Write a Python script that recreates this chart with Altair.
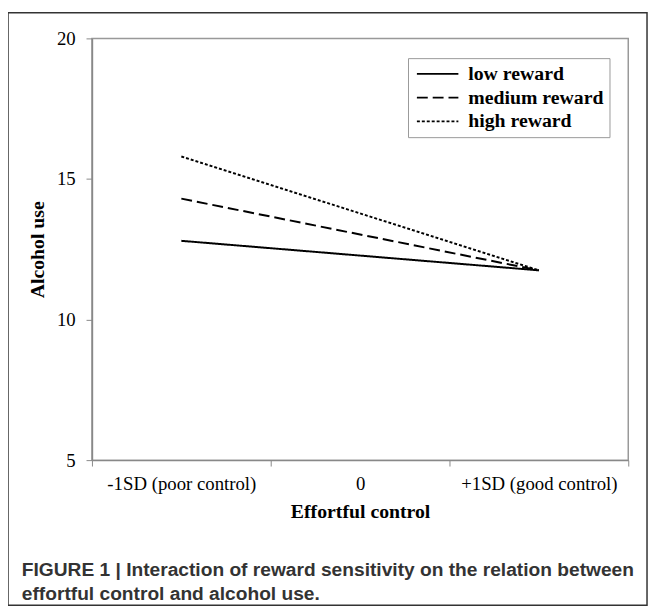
import altair as alt
import pandas as pd

# ---- data ----
x_labels = ["-1SD (poor control)", "0", "+1SD (good control)"]
series = ["low reward", "medium reward", "high reward"]
x_points = ["-1SD (poor control)", "+1SD (good control)"]
low_vals = [12.8, 11.75]
medium_vals = [14.3, 11.75]
high_vals = [15.8, 11.75]

rows = []
for name, vals in zip(series, [low_vals, medium_vals, high_vals]):
    for xl, v in zip(x_points, vals):
        rows.append({"control": xl, "alcohol": v, "reward": name})
df = pd.DataFrame(rows)

caption_lines = [
    "FIGURE 1 | Interaction of reward sensitivity on the relation between",
    "effortful control and alcohol use.",
]

W, H = 543, 427
SERIF = "Liberation Serif"
SANS = "Liberation Sans"

lines = alt.Chart(df).mark_line(color="black", strokeWidth=2).encode(
    x=alt.X(
        "control:N",
        sort=x_labels,
        scale=alt.Scale(type="band", domain=x_labels, paddingInner=0, paddingOuter=0),
        axis=alt.Axis(
            title="Effortful control",
            labelAngle=0,
            tickBand="extent",
            labelPadding=9,
            titlePadding=8,
        ),
    ),
    y=alt.Y(
        "alcohol:Q",
        scale=alt.Scale(domain=[5, 20], nice=False, zero=False),
        axis=alt.Axis(title="Alcohol use", values=[5, 10, 15, 20], labelPadding=11, titlePadding=9),
    ),
    strokeDash=alt.StrokeDash(
        "reward:N",
        sort=series,
        scale=alt.Scale(domain=series, range=[[1, 0], [11, 5], [3, 2]]),
        legend=alt.Legend(title=None),
    ),
    detail="reward:N",
)

frame = alt.Chart(pd.DataFrame({"a": [0]})).mark_rect(
    fill=None, stroke="#333333", strokeWidth=1.5
).encode(
    x=alt.value(-85), x2=alt.value(562), y=alt.value(-26), y2=alt.value(574)
)

cap1 = alt.Chart(pd.DataFrame({"t": [caption_lines[0]]})).mark_text(
    align="left", baseline="middle", font=SANS, fontWeight="bold", fontSize=19.4, color="#333333"
).encode(x=alt.value(-71), y=alt.value(538), text="t:N")
cap2 = alt.Chart(pd.DataFrame({"t": [caption_lines[1]]})).mark_text(
    align="left", baseline="middle", font=SANS, fontWeight="bold", fontSize=19.4, color="#333333"
).encode(x=alt.value(-71), y=alt.value(563), text="t:N")

chart = (
    alt.layer(frame, lines, cap1, cap2)
    .properties(
        width=W,
        height=H,
        autosize=alt.AutoSizeParams(type="none"),
        padding={"left": 85, "top": 27, "right": 21, "bottom": 150},
    )
    .configure_view(stroke="#999999", strokeWidth=1.5)
    .configure_axis(
        domainColor="#888888",
        domainWidth=1.5,
        tickColor="#888888",
        tickSize=6,
        grid=False,
        labelFont=SERIF,
        labelFontSize=19,
        labelColor="black",
        titleFont=SERIF,
        titleFontSize=20,
        titleFontWeight="bold",
        titleColor="black",
    )
    .configure_legend(
        orient="none",
        legendX=320,
        legendY=20,
        strokeColor="#999999",
        padding=6,
        symbolType="M-1,0H5",
        symbolStrokeColor="black",
        symbolStrokeWidth=1.8,
        symbolSize=196,
        labelFont=SERIF,
        labelFontWeight="bold",
        labelFontSize=20,
        labelColor="black",
        rowPadding=4,
        labelOffset=35,
    )
)

chart.save("out.html", embed_options={"renderer": "svg", "actions": False})
